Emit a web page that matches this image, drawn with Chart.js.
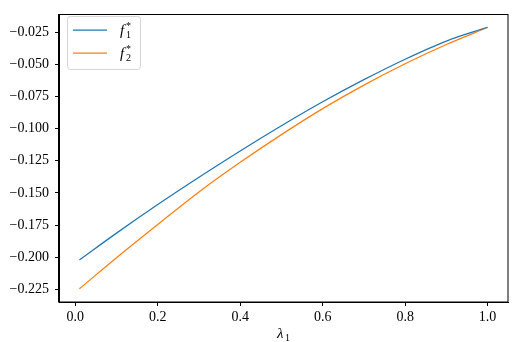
<!DOCTYPE html>
<html>
<head>
<meta charset="utf-8">
<script src="https://cdn.jsdelivr.net/npm/chart.js@4"></script>
<style>
  html, body { margin: 0; padding: 0; background: #fff; }
  #wrap { width: 516px; height: 342px; }
</style>
</head>
<body>
<div id="wrap"><canvas id="chart" width="516" height="342"></canvas></div>
<script>
// values
const lambdas = [0.01, 0.1, 0.2, 0.3, 0.4, 0.5, 0.6, 0.7, 0.8, 0.9, 1.0];
const f1Star = [-0.2020, -0.1812, -0.1590, -0.1378, -0.1174, -0.0978, -0.0792, -0.0620, -0.0461, -0.0320, -0.0213];
const f2Star = [-0.2244, -0.2003, -0.1745, -0.1492, -0.1262, -0.1047, -0.0845, -0.0662, -0.0496, -0.0347, -0.0215];
const xTicks = [0.0, 0.2, 0.4, 0.6, 0.8, 1.0];
const yTicks = [-0.225, -0.200, -0.175, -0.150, -0.125, -0.100, -0.075, -0.050, -0.025];
const seriesNames = ['f1', 'f2'];
const seriesColors = ['#1f77b4', '#ff7f0e'];

const serif = '"Liberation Serif", "DejaVu Serif", serif';
const minus = s => s.replace('-', '\u2212');

function points(ys) {
  return lambdas.map((x, i) => ({ x: x, y: ys[i] }));
}

// top/right spines, inline legend and the x label
const extras = {
  id: 'extras',
  afterDraw(chart) {
    const ctx = chart.ctx;
    const a = chart.chartArea;
    ctx.save();
    ctx.strokeStyle = '#000';
    ctx.lineWidth = 1;
    ctx.strokeRect(Math.round(a.left) - 0.5, Math.round(a.top) + 0.5,
      Math.round(a.right - a.left) + 0.5, Math.round(a.bottom - a.top) - 0.5);

    // legend box
    const bx = 67.5, by = 16.5, bw = 73, bh = 53, r = 3;
    ctx.globalAlpha = 0.8;
    ctx.fillStyle = '#fff';
    ctx.beginPath();
    ctx.roundRect(bx, by, bw, bh, r);
    ctx.fill();
    ctx.strokeStyle = '#cccccc';
    ctx.lineWidth = 1;
    ctx.stroke();
    ctx.globalAlpha = 1;

    chart.data.datasets.forEach((ds, i) => {
      const y = 30 + i * 23;
      ctx.strokeStyle = ds.borderColor;
      ctx.lineWidth = 1.25;
      ctx.beginPath();
      ctx.moveTo(73, y);
      ctx.lineTo(107, y);
      ctx.stroke();
      ctx.fillStyle = '#000';
      ctx.textBaseline = 'alphabetic';
      ctx.textAlign = 'left';
      ctx.font = 'italic 15px ' + serif;
      ctx.fillText('f', 120, y + 5);
      ctx.font = '10px ' + serif;
      ctx.fillText(ds.label.slice(1), 126, y + 8);
      ctx.fillText('*', 126, y - 1);
    });

    // x axis label
    ctx.fillStyle = '#000';
    ctx.font = 'italic 15px ' + serif;
    ctx.fillText('\u03bb', 277, 338);
    ctx.font = '10px ' + serif;
    ctx.fillText('1', 285, 341);
    ctx.restore();
  }
};

new Chart(document.getElementById('chart').getContext('2d'), {
  type: 'line',
  data: {
    datasets: seriesNames.map((name, i) => ({
      label: name,
      data: points(i === 0 ? f1Star : f2Star),
      borderColor: seriesColors[i],
      backgroundColor: seriesColors[i],
      borderWidth: 1.25,
      pointRadius: 0,
      cubicInterpolationMode: 'monotone',
      fill: false
    }))
  },
  options: {
    responsive: false,
    animation: false,
    devicePixelRatio: 1,
    layout: { padding: { top: 10, right: 8, left: 0, bottom: 0 } },
    plugins: {
      legend: { display: false },
      tooltip: { enabled: false }
    },
    scales: {
      x: {
        type: 'linear',
        min: -0.0395,
        max: 1.0495,
        afterBuildTicks: s => { s.ticks = xTicks.map(v => ({ value: v })); },
        afterFit: s => { s.height = 40; },
        ticks: {
          callback: v => v.toFixed(1),
          color: '#000',
          font: { family: serif, size: 14 },
          padding: 3,
          maxRotation: 0
        },
        grid: { display: true, drawOnChartArea: false, drawTicks: true, tickLength: 4, color: '#000' },
        border: { display: true, color: '#000', width: 1 }
      },
      y: {
        min: -0.2347,
        max: -0.0113,
        afterBuildTicks: s => { s.ticks = yTicks.map(v => ({ value: v })); },
        afterFit: s => { s.width = 59; },
        ticks: {
          callback: v => minus(v.toFixed(3)),
          color: '#000',
          font: { family: serif, size: 14 },
          padding: 6
        },
        grid: { display: true, drawOnChartArea: false, drawTicks: true, tickLength: 4, color: '#000' },
        border: { display: true, color: '#000', width: 1 }
      }
    }
  },
  plugins: [extras]
});
</script>
</body>
</html>
